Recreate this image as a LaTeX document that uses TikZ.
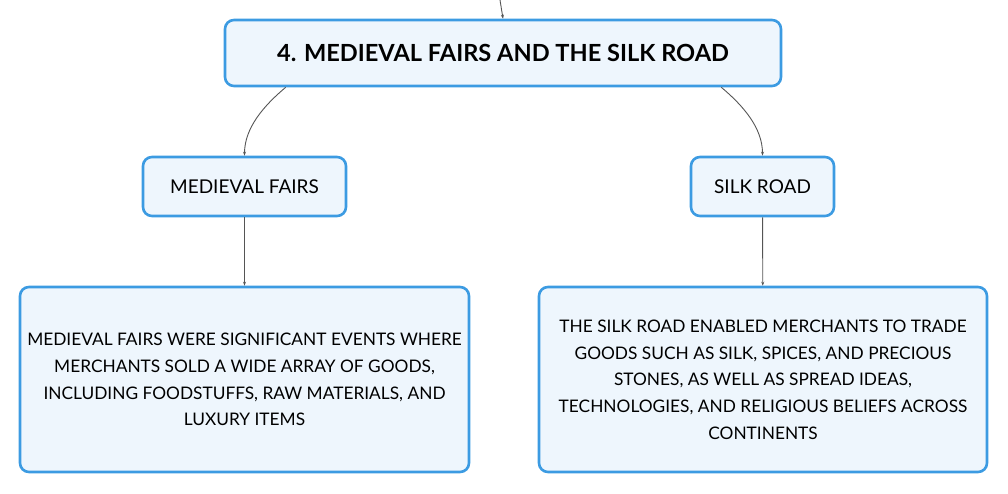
\documentclass[tikz,border=0pt]{standalone}
\usepackage{fontspec}
\setmainfont{Lato}
\usetikzlibrary{arrows.meta}

\definecolor{boxline}{HTML}{3C9BE2}
\definecolor{boxfill}{HTML}{EEF6FD}
\definecolor{link}{HTML}{555555}

\begin{document}
\begin{tikzpicture}[x=1pt, y=-1pt,
  topic/.style={draw=boxline, fill=boxfill, line width=2.6pt, rounded corners=9pt,
    inner sep=0pt, align=center},
  link/.style={draw=link, line width=0.9pt, -{Stealth[length=4pt,width=3pt]}}]
  \useasboundingbox (0,0) rectangle (1008,494);
  \node[topic, minimum width=556pt, minimum height=66pt, font=\fontsize{23.6}{28}\selectfont\bfseries]
    (root) at (503,53) {4. MEDIEVAL FAIRS AND THE SILK ROAD};
  \node[topic, minimum width=203pt, minimum height=59pt, font=\fontsize{19}{22}\selectfont]
    (fairs) at (244.5,186.5) {MEDIEVAL FAIRS};
  \node[topic, minimum width=143pt, minimum height=59pt, font=\fontsize{19}{22}\selectfont]
    (silk) at (762.5,186.5) {SILK ROAD};
  \node[topic, minimum width=449pt, minimum height=185pt, font=\fontsize{17.3}{26.7}\selectfont]
    (fairstext) at (244.5,379.5) {MEDIEVAL FAIRS WERE SIGNIFICANT EVENTS WHERE\\
    MERCHANTS SOLD A WIDE ARRAY OF GOODS,\\
    INCLUDING FOODSTUFFS, RAW MATERIALS, AND\\
    LUXURY ITEMS};
  \node[topic, minimum width=448pt, minimum height=185pt, font=\fontsize{17.3}{26.7}\selectfont]
    (silktext) at (763,379.5) {THE SILK ROAD ENABLED MERCHANTS TO TRADE\\
    GOODS SUCH AS SILK, SPICES, AND PRECIOUS\\
    STONES, AS WELL AS SPREAD IDEAS,\\
    TECHNOLOGIES, AND RELIGIOUS BELIEFS ACROSS\\
    CONTINENTS};
  \coordinate (parent) at (500,0);
  % links
  \draw[link] (parent) -- (root.north);
  \draw[link] ([xshift=62pt]root.south west) to[out=220, in=90, looseness=0.9] (fairs.north);
  \draw[link] ([xshift=-61pt]root.south east) to[out=-40, in=90, looseness=0.9] (silk.north);
  \draw[link] (fairs) -- (fairstext);
  \draw[link] (silk) -- (silktext);
\end{tikzpicture}
\end{document}
